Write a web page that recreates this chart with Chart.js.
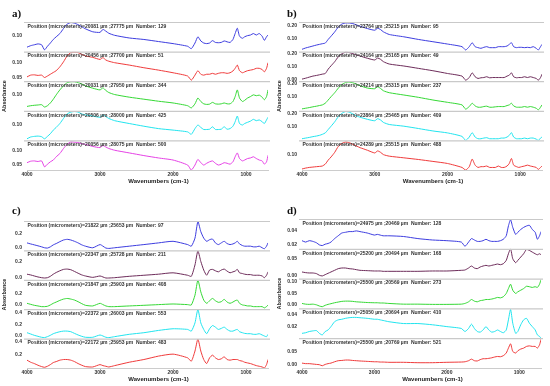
<!DOCTYPE html>
<html>
<head>
<meta charset="utf-8">
<script src="https://cdn.jsdelivr.net/npm/chart.js@4.4.0/dist/chart.umd.min.js"></script>
<style>
  body { margin: 0; background: #fff; width: 550px; height: 386px; position: relative; overflow: hidden; }
  canvas { position: absolute; }
</style>
</head>
<body>
<canvas id="panelA" width="275" height="186" style="left:0;top:0"></canvas>
<canvas id="panelB" width="275" height="186" style="left:275px;top:0"></canvas>
<canvas id="panelC" width="275" height="194" style="left:0;top:190px"></canvas>
<canvas id="panelD" width="275" height="194" style="left:275px;top:190px"></canvas>
<script>
// wavenumber grid shared by every spectrum (cm-1)
var wavenumbers = [4000, 3950, 3900, 3850, 3800, 3760, 3720, 3680, 3640, 3600,
  3550, 3500, 3450, 3400, 3350, 3300, 3250, 3200,
  3100, 3000, 2960, 2920, 2880,
  2800, 2600, 2400, 2200, 2000, 1800,
  1750, 1700, 1660, 1620, 1580, 1540, 1500, 1460,
  1420, 1380, 1340, 1300, 1260, 1220, 1180, 1150,
  1120, 1090, 1050, 1020, 980, 940, 900, 860, 820, 780, 750, 720, 700];
var xTicks = [4000, 3000, 2000, 1000];

// panel a
var a1 = [0.062, 0.067, 0.070, 0.073, 0.070, 0.053, 0.065, 0.076, 0.088, 0.097,
  0.108, 0.125, 0.140, 0.145, 0.143, 0.138, 0.131, 0.124,
  0.114, 0.112, 0.122, 0.116, 0.109,
  0.102, 0.093, 0.088, 0.081, 0.074, 0.065,
  0.057, 0.076, 0.097, 0.083, 0.076, 0.074, 0.076, 0.084,
  0.078, 0.077, 0.078, 0.083, 0.080, 0.078, 0.088, 0.108,
  0.126, 0.099, 0.092, 0.097, 0.101, 0.103, 0.108, 0.103, 0.108, 0.099, 0.085, 0.097, 0.103];
var a2 = [0.052, 0.058, 0.059, 0.057, 0.058, 0.050, 0.055, 0.061, 0.067, 0.073,
  0.086, 0.103, 0.123, 0.134, 0.135, 0.134, 0.128, 0.123,
  0.118, 0.111, 0.117, 0.109, 0.105,
  0.100, 0.092, 0.083, 0.075, 0.066, 0.055,
  0.041, 0.058, 0.073, 0.061, 0.058, 0.061, 0.061, 0.064,
  0.061, 0.064, 0.066, 0.066, 0.064, 0.066, 0.072, 0.081,
  0.092, 0.073, 0.066, 0.069, 0.073, 0.075, 0.077, 0.081, 0.081, 0.077, 0.069, 0.081, 0.100];
var a3 = [0.060, 0.0625, 0.064, 0.065, 0.066, 0.058, 0.0625, 0.072, 0.085, 0.100,
  0.117, 0.131, 0.142, 0.145, 0.145, 0.142, 0.1375, 0.131,
  0.123, 0.117, 0.124, 0.115, 0.108,
  0.101, 0.092, 0.085, 0.078, 0.072, 0.0625,
  0.055, 0.069, 0.089, 0.077, 0.069, 0.067, 0.068, 0.074,
  0.069, 0.068, 0.069, 0.072, 0.069, 0.069, 0.077, 0.094,
  0.117, 0.089, 0.077, 0.081, 0.089, 0.094, 0.100, 0.097, 0.099, 0.092, 0.083, 0.094, 0.117];
var a4 = [0.052, 0.058, 0.060, 0.061, 0.059, 0.052, 0.060, 0.069, 0.081, 0.090,
  0.103, 0.120, 0.135, 0.141, 0.143, 0.141, 0.135, 0.132,
  0.128, 0.124, 0.132, 0.126, 0.120,
  0.1125, 0.103, 0.094, 0.086, 0.081, 0.075,
  0.067, 0.086, 0.098, 0.090, 0.083, 0.083, 0.084, 0.092,
  0.083, 0.083, 0.084, 0.092, 0.084, 0.086, 0.094, 0.109,
  0.128, 0.103, 0.098, 0.103, 0.107, 0.111, 0.117, 0.1125, 0.115, 0.109, 0.103, 0.115, 0.124];
var a5 = [0.058, 0.063, 0.064, 0.062, 0.064, 0.044, 0.053, 0.061, 0.067, 0.078,
  0.089, 0.106, 0.120, 0.128, 0.127, 0.126, 0.122, 0.120,
  0.113, 0.109, 0.116, 0.111, 0.106,
  0.100, 0.091, 0.082, 0.074, 0.067, 0.050,
  0.033, 0.050, 0.069, 0.058, 0.050, 0.056, 0.061, 0.064,
  0.056, 0.050, 0.053, 0.058, 0.056, 0.053, 0.061, 0.078,
  0.091, 0.072, 0.064, 0.067, 0.072, 0.074, 0.078, 0.072, 0.067, 0.064, 0.053, 0.061, 0.083];

// panel b
var b1 = [0.0225, 0.0325, 0.040, 0.0475, 0.055, 0.060, 0.065, 0.070, 0.0975, 0.1225,
  0.155, 0.1925, 0.215, 0.2225, 0.2225, 0.2175, 0.2075, 0.1975,
  0.180, 0.1675, 0.1825, 0.1725, 0.155,
  0.135, 0.1175, 0.0975, 0.080, 0.0625, 0.0425,
  0.0175, 0.0425, 0.0725, 0.0425, 0.035, 0.030, 0.0375, 0.0425,
  0.035, 0.035, 0.035, 0.0425, 0.0425, 0.0425, 0.0475, 0.060,
  0.0725, 0.0425, 0.035, 0.0375, 0.0375, 0.035, 0.0375, 0.035, 0.0425, 0.030, 0.0175, 0.0425, 0.060];
var b2 = [0.003, 0.010, 0.018, 0.026, 0.031, 0.036, 0.041, 0.046, 0.079, 0.105,
  0.136, 0.174, 0.197, 0.208, 0.205, 0.197, 0.187, 0.179,
  0.162, 0.149, 0.164, 0.154, 0.136,
  0.118, 0.103, 0.085, 0.067, 0.046, 0.026,
  -0.005, 0.015, 0.051, 0.021, 0.008, 0.013, 0.015, 0.021,
  0.013, 0.015, 0.015, 0.015, 0.015, 0.015, 0.026, 0.033,
  0.051, 0.021, 0.013, 0.015, 0.015, 0.021, 0.015, 0.021, 0.015, 0.008, -0.005, 0.015, 0.041];
var b3 = [0.005, 0.010, 0.015, 0.021, 0.026, 0.031, 0.036, 0.049, 0.074, 0.100,
  0.131, 0.167, 0.195, 0.210, 0.213, 0.208, 0.197, 0.185,
  0.167, 0.162, 0.177, 0.164, 0.146,
  0.131, 0.113, 0.095, 0.074, 0.056, 0.036,
  0.003, 0.023, 0.049, 0.028, 0.018, 0.018, 0.023, 0.026,
  0.018, 0.018, 0.021, 0.023, 0.023, 0.023, 0.031, 0.036,
  0.049, 0.028, 0.018, 0.018, 0.018, 0.023, 0.018, 0.023, 0.018, 0.010, -0.003, 0.018, 0.036];
var b4 = [0.008, 0.013, 0.018, 0.024, 0.029, 0.034, 0.042, 0.053, 0.079, 0.105,
  0.139, 0.179, 0.205, 0.218, 0.213, 0.200, 0.184, 0.174,
  0.158, 0.147, 0.163, 0.153, 0.134,
  0.118, 0.105, 0.087, 0.068, 0.053, 0.026,
  -0.005, 0.021, 0.055, 0.021, 0.008, 0.008, 0.013, 0.016,
  0.008, 0.008, 0.008, 0.008, 0.013, 0.013, 0.021, 0.034,
  0.055, 0.021, 0.008, 0.008, 0.008, 0.013, 0.008, 0.013, 0.013, 0.005, -0.005, 0.013, 0.021];
var b5 = [-0.015, -0.008, -0.003, 0.000, 0.003, 0.005, 0.008, 0.023, 0.054, 0.079,
  0.115, 0.162, 0.185, 0.195, 0.190, 0.177, 0.164, 0.151,
  0.131, 0.110, 0.126, 0.115, 0.097,
  0.085, 0.072, 0.059, 0.044, 0.028, -0.003,
  -0.023, 0.003, 0.062, 0.015, -0.003, 0.003, 0.003, 0.008,
  -0.003, -0.003, -0.003, 0.008, -0.003, -0.003, 0.008, 0.028,
  0.067, 0.015, 0.003, -0.003, 0.003, 0.008, 0.015, 0.008, 0.003, -0.003, -0.018, -0.003, 0.008];

// panel c
var c1 = [0.067, 0.053, 0.040, 0.027, 0.013, 0.000, -0.004, 0.013, 0.040, 0.058,
  0.084, 0.107, 0.116, 0.107, 0.089, 0.067, 0.040, 0.022,
  0.000, 0.044, 0.022, -0.004, -0.009,
  0.000, 0.022, 0.044, 0.067, 0.089, 0.044,
  0.022, 0.133, 0.360, 0.222, 0.133, 0.089, 0.111, 0.120,
  0.067, 0.044, 0.067, 0.089, 0.058, 0.044, 0.053, 0.067,
  0.089, 0.053, 0.031, 0.022, 0.022, 0.022, 0.013, 0.013, 0.022, 0.000, -0.013, 0.022, 0.067];
var c2 = [0.043, 0.034, 0.021, 0.009, 0.000, -0.004, 0.000, 0.017, 0.043, 0.064,
  0.085, 0.102, 0.106, 0.098, 0.077, 0.055, 0.034, 0.021,
  0.004, 0.021, 0.009, -0.004, -0.004,
  0.000, 0.017, 0.030, 0.043, 0.060, 0.030,
  0.017, 0.157, 0.330, 0.200, 0.094, 0.030, 0.094, 0.102,
  0.085, 0.072, 0.094, 0.106, 0.081, 0.060, 0.072, 0.081,
  0.102, 0.060, 0.051, 0.043, 0.038, 0.038, 0.030, 0.030, 0.030, 0.021, 0.000, 0.030, 0.072];
var c3 = [0.029, 0.011, -0.006, -0.017, -0.029, -0.029, -0.023, 0.000, 0.029, 0.051,
  0.080, 0.103, 0.114, 0.103, 0.086, 0.057, 0.023, -0.006,
  -0.017, 0.029, 0.006, -0.017, -0.029,
  -0.029, -0.017, -0.006, 0.006, 0.017, 0.006,
  0.000, 0.171, 0.435, 0.229, 0.086, 0.029, 0.074, 0.114,
  0.074, 0.046, 0.057, 0.097, 0.051, 0.029, 0.051, 0.074,
  0.086, 0.029, 0.000, -0.006, -0.017, -0.017, -0.029, -0.029, -0.029, -0.029, -0.051, -0.029, 0.000];
var c4 = [0.047, 0.024, 0.000, -0.018, -0.035, -0.041, -0.024, 0.000, 0.029, 0.047,
  0.065, 0.076, 0.076, 0.065, 0.035, 0.006, -0.018, -0.035,
  -0.035, 0.006, -0.012, -0.035, -0.041,
  -0.024, 0.018, 0.047, 0.088, 0.118, 0.106,
  0.076, 0.224, 0.465, 0.224, 0.106, 0.029, 0.118, 0.176,
  0.147, 0.106, 0.124, 0.147, 0.106, 0.076, 0.076, 0.094,
  0.106, 0.065, 0.047, 0.035, 0.029, 0.029, 0.018, 0.018, 0.029, 0.006, -0.012, -0.024, 0.018];
var c5 = [0.111, 0.079, 0.058, 0.032, 0.011, 0.000, 0.016, 0.042, 0.074, 0.089,
  0.111, 0.121, 0.121, 0.111, 0.089, 0.058, 0.032, 0.011,
  0.005, 0.042, 0.026, 0.016, 0.005,
  0.026, 0.079, 0.121, 0.174, 0.205, 0.147,
  0.095, 0.253, 0.440, 0.253, 0.121, 0.058, 0.147, 0.189,
  0.147, 0.121, 0.132, 0.163, 0.121, 0.111, 0.121, 0.121,
  0.121, 0.105, 0.095, 0.079, 0.068, 0.058, 0.042, 0.026, 0.016, 0.005, -0.011, 0.042, 0.121];

// panel d
var d1 = [0.026, 0.024, 0.026, 0.025, 0.023, 0.020, 0.019, 0.021, 0.022, 0.024,
  0.029, 0.033, 0.037, 0.038, 0.039, 0.039, 0.040, 0.039,
  0.037, 0.034, 0.035, 0.034, 0.033,
  0.033, 0.032, 0.029, 0.027, 0.026, 0.024,
  0.018, 0.024, 0.029, 0.027, 0.025, 0.025, 0.026, 0.028,
  0.026, 0.025, 0.025, 0.025, 0.026, 0.028, 0.033, 0.047,
  0.056, 0.045, 0.035, 0.038, 0.042, 0.045, 0.047, 0.048, 0.042, 0.038, 0.028, 0.033, 0.039];
var d2 = [0.010, 0.008, 0.007, 0.007, 0.005, 0.000, -0.002, 0.002, 0.006, 0.010,
  0.015, 0.020, 0.022, 0.022, 0.020, 0.019, 0.017, 0.015,
  0.014, 0.013, 0.013, 0.013, 0.012,
  0.012, 0.012, 0.012, 0.013, 0.013, 0.015,
  0.016, 0.022, 0.028, 0.022, 0.020, 0.025, 0.028, 0.030,
  0.028, 0.030, 0.032, 0.034, 0.032, 0.035, 0.045, 0.065,
  0.080, 0.050, 0.038, 0.045, 0.055, 0.065, 0.078, 0.075, 0.070, 0.065, 0.062, 0.065, 0.062];
var d3 = [0.007, 0.004, 0.003, 0.004, 0.001, -0.004, -0.007, -0.001, 0.003, 0.006,
  0.010, 0.013, 0.016, 0.017, 0.017, 0.016, 0.014, 0.013,
  0.011, 0.010, 0.010, 0.009, 0.009,
  0.007, 0.004, 0.004, 0.003, 0.003, 0.004,
  0.007, 0.014, 0.024, 0.017, 0.014, 0.019, 0.021, 0.024,
  0.024, 0.026, 0.029, 0.033, 0.031, 0.036, 0.050, 0.071,
  0.090, 0.064, 0.050, 0.057, 0.064, 0.071, 0.081, 0.079, 0.076, 0.079, 0.076, 0.090, 0.110];
var d4 = [0.009, 0.010, 0.012, 0.013, 0.0135, 0.009, 0.0065, 0.012, 0.0145, 0.020,
  0.028, 0.031, 0.032, 0.0335, 0.0345, 0.035, 0.035, 0.0345,
  0.0335, 0.032, 0.032, 0.031, 0.030,
  0.028, 0.025, 0.025, 0.023, 0.020, 0.017,
  0.012, 0.017, 0.024, 0.017, 0.012, 0.011, 0.0145, 0.020,
  0.0145, 0.011, 0.012, 0.0145, 0.012, 0.010, 0.0145, 0.031,
  0.048, 0.0255, 0.009, 0.012, 0.023, 0.031, 0.0335, 0.0255, 0.020, 0.0145, 0.0065, 0.004, 0.001];
var d5 = [0.006, 0.004, 0.004, 0.0025, 0.001, 0.000, -0.004, 0.001, 0.004, 0.006,
  0.011, 0.015, 0.016, 0.0175, 0.0175, 0.016, 0.015, 0.014,
  0.0125, 0.011, 0.011, 0.010, 0.010,
  0.009, 0.009, 0.0075, 0.0075, 0.009, 0.010,
  0.011, 0.015, 0.021, 0.015, 0.014, 0.019, 0.0225, 0.0225,
  0.024, 0.026, 0.029, 0.031, 0.030, 0.034, 0.044, 0.0625,
  0.079, 0.050, 0.044, 0.0525, 0.059, 0.0625, 0.069, 0.071, 0.069, 0.069, 0.0625, 0.075, 0.096];

// absorbance tick labels shown on each strip
var ticksA = [[0.10], [0.05, 0.10], [0.10], [0.10], [0.05, 0.10]];
var ticksB = [[0.10, 0.20], [0.00, 0.10, 0.20], [0.10, 0.20], [0.10, 0.20], [0.10]];
var ticksC = [[0.0, 0.2], [0.0, 0.2], [0.0, 0.2], [0.0, 0.2, 0.4], [0.2, 0.4]];
var ticksD = [[0.02, 0.04], [0.00, 0.05], [0.00, 0.05, 0.10], [0.02, 0.04], [0.00, 0.05]];

// strip headers
var captionsA = ['Position (micrometers)=20081 µm ;27775 µm  Number: 129',
  'Position (micrometers)=20456 µm ;27700 µm  Number: 51',
  'Position (micrometers)=20031 µm ;27950 µm  Number: 344',
  'Position (micrometers)=20506 µm ;28000 µm  Number: 425',
  'Position (micrometers)=20056 µm ;28075 µm  Number: 500'];
var captionsB = ['Position (micrometers)=23764 µm ;25215 µm  Number: 95',
  'Position (micrometers)=24164 µm ;25165 µm  Number: 49',
  'Position (micrometers)=24214 µm ;25315 µm  Number: 237',
  'Position (micrometers)=23864 µm ;25465 µm  Number: 409',
  'Position (micrometers)=24289 µm ;25515 µm  Number: 488'];
var captionsC = ['Position (micrometers)=21822 µm ;25653 µm  Number: 97',
  'Position (micrometers)=22347 µm ;25728 µm  Number: 211',
  'Position (micrometers)=21847 µm ;25903 µm  Number: 408',
  'Position (micrometers)=22372 µm ;26003 µm  Number: 553',
  'Position (micrometers)=22172 µm ;25953 µm  Number: 483'];
var captionsD = ['Position (micrometers)=24975 µm ;20469 µm  Number: 128',
  'Position (micrometers)=25200 µm ;20494 µm  Number: 168',
  'Position (micrometers)=25500 µm ;20569 µm  Number: 273',
  'Position (micrometers)=25050 µm ;20694 µm  Number: 410',
  'Position (micrometers)=25500 µm ;20769 µm  Number: 521'];

var BLUE = '#3d3ddf', RED = '#ef3b3b', GREEN = '#35d835', CYAN = '#22e4ee', MAGENTA = '#e542e5', PURPLE = '#6d2c5a';

Chart.defaults.font.family = '"Liberation Sans", Arial, sans-serif';

function buildPanel(canvasId, p) {
  var scales = {
    x: {
      type: 'linear', reverse: true, min: 700, max: 4000,
      afterBuildTicks: function(s) { s.ticks = xTicks.map(function(v) { return { value: v }; }); },
      afterFit: function(s) { s.height = 16; },
      ticks: { autoSkip: false, maxRotation: 0, padding: 0, color: '#333', font: { size: 5, weight: 'bold' },
        callback: function(v) { return String(v); } },
      grid: { drawOnChartArea: false, tickLength: 2, color: '#aaa' },
      border: { color: '#ccc' }
    }
  };
  p.series.forEach(function(vals, i) {
    scales['y' + i] = {
      type: 'linear', position: 'left', stack: 'strips', stackWeight: 1, weight: 10 - i,
      min: p.ranges[i][0], max: p.ranges[i][1],
      afterBuildTicks: function(s) { s.ticks = p.ticks[i].map(function(v) { return { value: v }; }); },
      afterFit: function(s) { s.width = 27; },
      grid: { display: false, drawTicks: false },
      border: { display: false },
      ticks: { autoSkip: false, padding: 5, color: '#333', font: { size: 5, weight: 'bold' },
        callback: function(v) { return v.toFixed(p.decimals); } },
      title: { display: i === 2, text: 'Absorbance', color: '#222', padding: { top: 1, bottom: 0 },
        font: { size: 5.5, weight: 'bold' } }
    };
  });

  var decor = {
    id: 'stripDecor',
    afterDatasetsDraw: function(chart) {
      var ctx = chart.ctx, area = chart.chartArea;
      ctx.save();
      p.series.forEach(function(vals, i) {
        var s = chart.scales['y' + i];
        ctx.strokeStyle = '#c9c9c9';
        ctx.lineWidth = 1.2;
        ctx.beginPath();
        ctx.moveTo(area.left - 3, s.top + 0.5);
        ctx.lineTo(area.right + 2, s.top + 0.5);
        ctx.stroke();
        ctx.fillStyle = '#333';
        ctx.font = 'bold 5px "Liberation Sans", Arial, sans-serif';
        ctx.textBaseline = 'middle';
        ctx.textAlign = 'left';
        ctx.fillText(p.captions[i], area.left + 0.5, s.top + 4.5);
      });
      ctx.fillStyle = '#222';
      ctx.font = 'bold 6px "Liberation Sans", Arial, sans-serif';
      ctx.textAlign = 'center';
      ctx.fillText('Wavenumbers (cm-1)', (area.left + area.right) / 2 + 11, area.bottom + 11);
      ctx.font = 'bold 11px "Liberation Serif", "Times New Roman", serif';
      ctx.textAlign = 'left';
      ctx.fillStyle = '#111';
      ctx.fillText(p.letter, 12, p.letterY);
      ctx.restore();
    }
  };

  return new Chart(document.getElementById(canvasId), {
    type: 'line',
    data: {
      datasets: p.series.map(function(vals, i) {
        return {
          data: wavenumbers.map(function(w, j) { return { x: w, y: vals[j] }; }),
          yAxisID: 'y' + i,
          borderColor: p.colors[i],
          borderWidth: 1,
          pointRadius: 0,
          tension: 0.2,
          fill: false
        };
      })
    },
    options: {
      responsive: false,
      animation: false,
      layout: { padding: { top: p.padTop, right: p.padRight, left: 0, bottom: 0 } },
      plugins: { legend: { display: false }, tooltip: { enabled: false } },
      scales: scales
    },
    plugins: [decor]
  });
}

buildPanel('panelA', {
  series: [a1, a2, a3, a4, a5], colors: [BLUE, RED, GREEN, CYAN, MAGENTA],
  ranges: [[0.047, 0.147], [0.0375, 0.1375], [0.045, 0.147], [0.0466, 0.1455], [0.0333, 0.1333]],
  ticks: ticksA, decimals: 2, captions: captionsA, letter: 'a)', letterY: 14, padTop: 22, padRight: 7
});
buildPanel('panelB', {
  series: [b1, b2, b3, b4, b5], colors: [BLUE, PURPLE, GREEN, CYAN, RED],
  ranges: [[0.005, 0.23], [-0.013, 0.213], [-0.010, 0.2205], [-0.005, 0.224], [-0.023, 0.208]],
  ticks: ticksB, decimals: 2, captions: captionsB, letter: 'b)', letterY: 14, padTop: 22, padRight: 8
});
buildPanel('panelC', {
  series: [c1, c2, c3, c4, c5], colors: [BLUE, PURPLE, GREEN, CYAN, RED],
  ranges: [[-0.036, 0.368], [-0.026, 0.336], [-0.074, 0.44], [-0.059, 0.47], [-0.011, 0.447]],
  ticks: ticksC, decimals: 1, captions: captionsC, letter: 'c)', letterY: 21, padTop: 31, padRight: 7
});
buildPanel('panelD', {
  series: [d1, d2, d3, d4, d5], colors: [BLUE, PURPLE, GREEN, CYAN, RED],
  ranges: [[0.0144, 0.057], [-0.01, 0.08], [-0.0143, 0.114], [0.0011, 0.0497], [-0.0125, 0.10]],
  ticks: ticksD, decimals: 2, captions: captionsD, letter: 'd)', letterY: 21, padTop: 29, padRight: 9
});
</script>
</body>
</html>
